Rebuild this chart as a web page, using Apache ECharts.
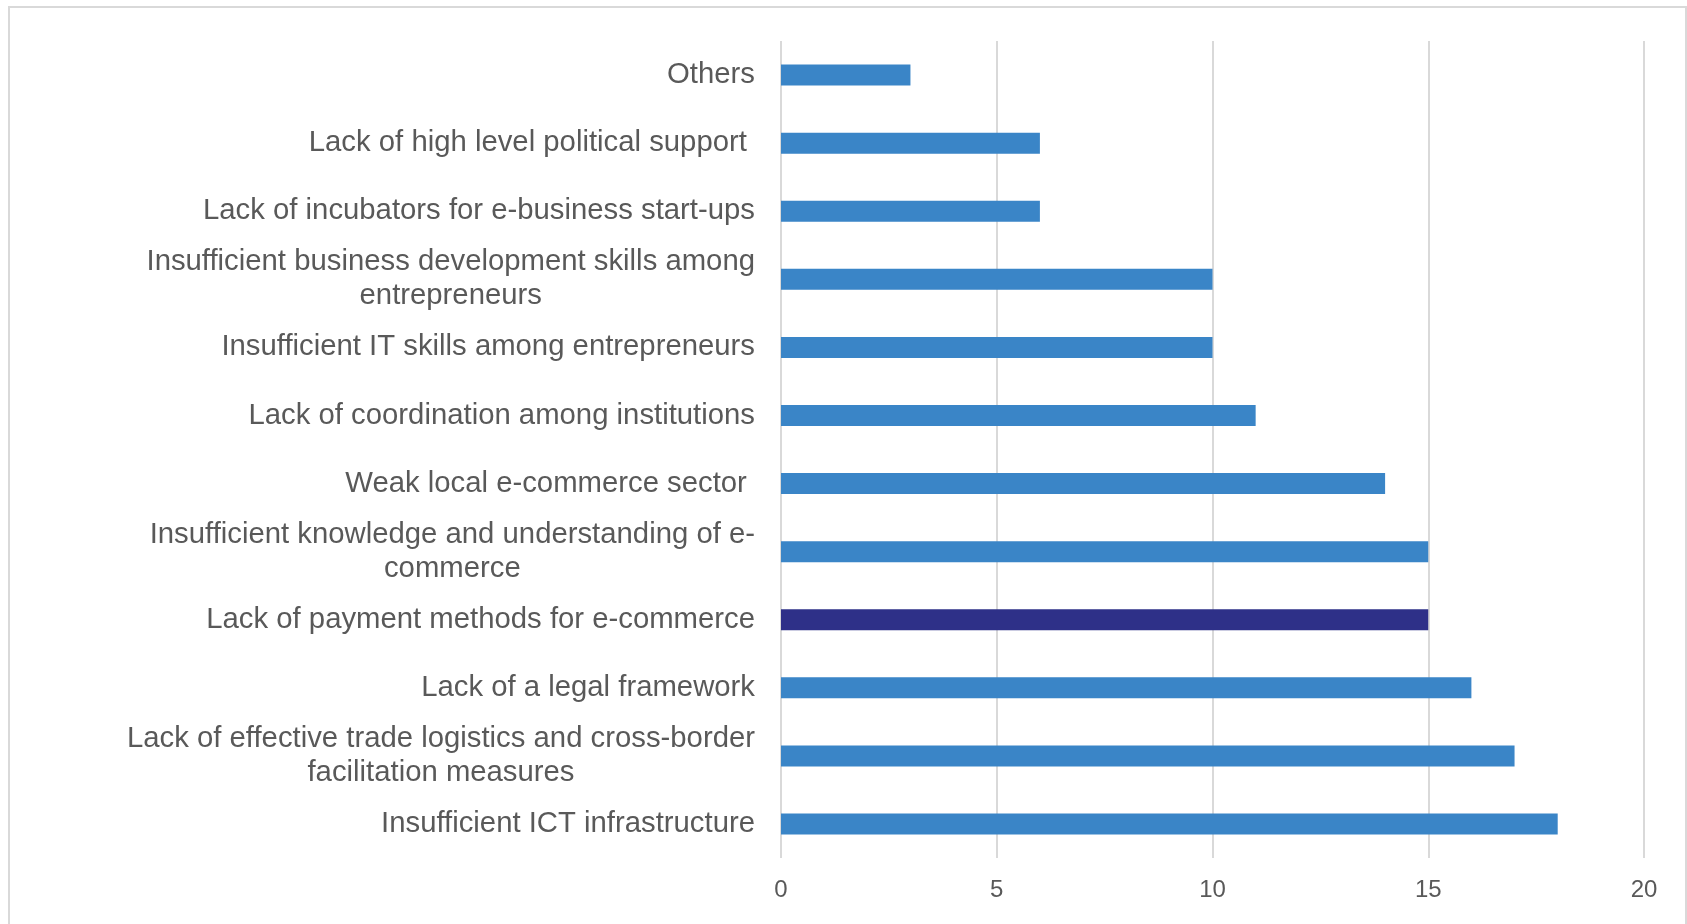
<!DOCTYPE html>
<html>
<head>
<meta charset="utf-8">
<script src="https://cdn.jsdelivr.net/npm/echarts@6/dist/echarts.min.js"></script>
<style>
  html, body { margin: 0; padding: 0; background: #fff; }
  #main { width: 1687px; height: 924px; }
</style>
</head>
<body>
<div id="main"></div>
<script>
// categories, top to bottom as they appear
const categories = [
  'Others',
  'Lack of high level political support ',
  'Lack of incubators for e-business start-ups',
  'Insufficient business development skills among\nentrepreneurs',
  'Insufficient IT skills among entrepreneurs',
  'Lack of coordination among institutions',
  'Weak local e-commerce sector ',
  'Insufficient knowledge and understanding of e-\ncommerce',
  'Lack of payment methods for e-commerce',
  'Lack of a legal framework',
  'Lack of effective trade logistics and cross-border\nfacilitation measures',
  'Insufficient ICT infrastructure'
];
const counts = [3, 6, 6, 10, 10, 11, 14, 15, 15, 16, 17, 18];
const highlighted = 'Lack of payment methods for e-commerce';
const xTicks = [0, 5, 10, 15, 20];

const chart = echarts.init(document.getElementById('main'));

// each line centred inside the label block, block right-aligned at the axis
function wrapLabel(value) {
  return value.split('\n').map(function (line) { return '{c|' + line + '}'; }).join('\n');
}

const option = {
  animation: false,
  graphic: [{
    type: 'rect',
    shape: { x: 9, y: 7, width: 1677, height: 1000 },
    style: { fill: 'none', stroke: '#d9d9d9', lineWidth: 2 },
    silent: true
  }],
  grid: { left: 781, right: 43, top: 41, bottom: 66 },
  xAxis: {
    type: 'value',
    min: xTicks[0],
    max: xTicks[xTicks.length - 1],
    interval: 5,
    axisLine: { show: false },
    axisTick: { show: false },
    splitLine: { lineStyle: { color: '#d9d9d9', width: 2 } },
    axisLabel: {
      color: '#595959',
      fontFamily: 'Liberation Sans',
      fontSize: 24,
      margin: 20
    }
  },
  yAxis: {
    type: 'category',
    inverse: true,
    data: categories,
    axisLine: { show: false },
    axisTick: { show: false },
    axisLabel: {
      margin: 26,
      formatter: wrapLabel,
      rich: {
        c: {
          align: 'center',
          color: '#595959',
          fontFamily: 'Liberation Sans',
          fontSize: 29.3,
          lineHeight: 34
        }
      }
    }
  },
  series: [{
    type: 'bar',
    data: counts,
    barWidth: 21,
    itemStyle: {
      color: function (p) {
        return p.name === highlighted ? '#2e3088' : '#3a85c7';
      }
    }
  }]
};

chart.setOption(option);
window.addEventListener('resize', chart.resize);
</script>
</body>
</html>
